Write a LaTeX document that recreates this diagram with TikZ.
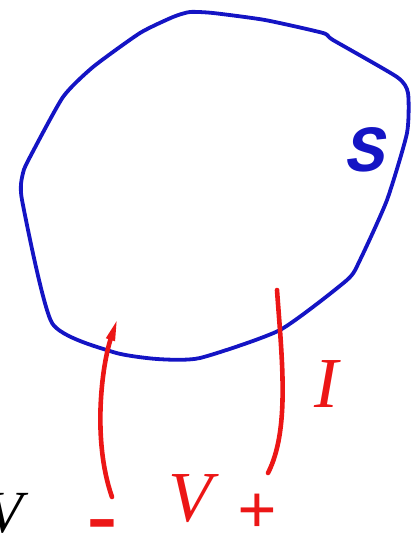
\documentclass[tikz,border=0pt]{standalone}
\usepackage{fontspec}
\setmainfont{Liberation Serif}
\setmonofont{Liberation Mono}
\usetikzlibrary{arrows.meta}
\definecolor{loopblue}{HTML}{1414C4}
\definecolor{wirered}{HTML}{EC1616}
\tikzset{
  surf/.style={draw=loopblue,line width=3.8bp,line join=round},
  wire/.style={draw=wirered,line width=4.6bp,line cap=round},
  lbl/.style={inner sep=0pt,font=\fontsize{72}{72}\selectfont\itshape},
  rlbl/.style={lbl,text=wirered},
  slbl/.style={lbl,text=loopblue,font=\fontsize{66}{66}\selectfont\ttfamily\bfseries\itshape},
  sgn/.style={inner sep=0pt,text=wirered,font=\fontsize{70}{70}\selectfont\bfseries}
}
\begin{document}
\begin{tikzpicture}[x=1bp,y=-1bp]
  \useasboundingbox (0,0) rectangle (410,535);
  % the closed surface
  \draw[surf] plot[smooth cycle,tension=0.35] coordinates {
    (190,12) (213,13) (265,20) (323,33) (333,40) (397,77) (408,93)
    (407,133) (387,200) (360,260) (347,280) (280,330) (200,358)
    (157,359) (113,352) (52,323) (22,200) (23,173)
    (30,157) (63,97) (93,67) (140,33) (173,17)};
  \node[slbl] (surfS) at (367,150) {S};
  % the two leads
  \coordinate (lout) at (112,497);
  \coordinate (lin) at (118,317);
  \coordinate (rin) at (277,290);
  \coordinate (rout) at (268,473);
  \draw[wire,-{Triangle[length=24bp,width=8bp]}] (lout) .. controls (92,440) and (102,365) .. (lin);
  \draw[wire] (rin) .. controls (282,360) and (290,430) .. (rout);
  \node[rlbl] (curI) at (326,384) {I};
  \node[rlbl] (voltV) at (190,499) {V};
  \node[sgn,font=\fontsize{90}{90}\selectfont\bfseries] (minus) at (102,532) {-};
  \node[sgn] (plus) at (257,514) {+};
  \node[lbl,font=\fontsize{60}{60}\selectfont\itshape] (leftV) at (5,513) {V};
\end{tikzpicture}
\end{document}
